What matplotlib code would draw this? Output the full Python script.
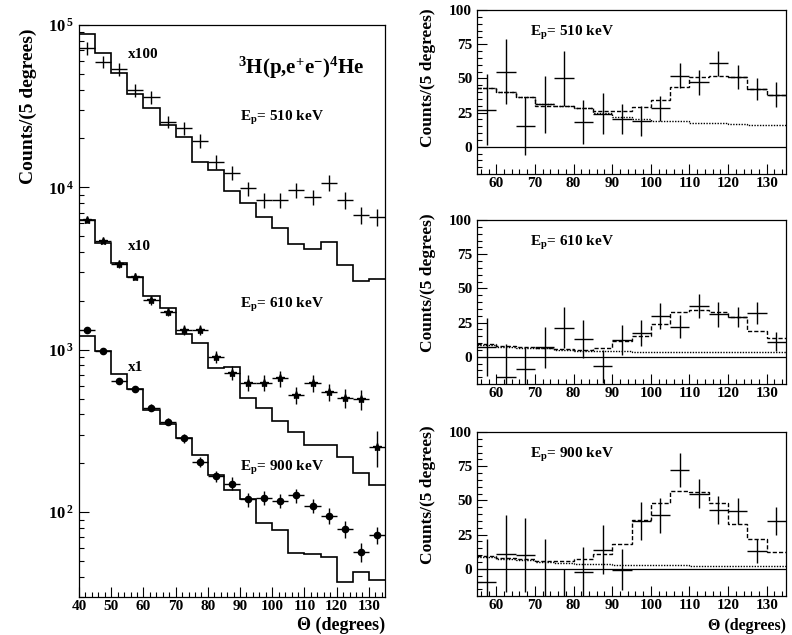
import numpy as np
import matplotlib
matplotlib.use('Agg')
import matplotlib.pyplot as plt
from matplotlib.ticker import MultipleLocator, LogLocator, NullFormatter

plt.rcParams['font.family'] = ['Liberation Serif', 'DejaVu Serif']
plt.rcParams['font.weight'] = 'bold'
plt.rcParams['mathtext.fontset'] = 'custom'
plt.rcParams['mathtext.rm'] = 'Liberation Serif:bold'
plt.rcParams['mathtext.it'] = 'Liberation Serif:bold'
plt.rcParams['mathtext.bf'] = 'Liberation Serif:bold'
plt.rcParams['mathtext.default'] = 'rm'

# ---- left panel: angular distributions (log scale), bins of 5 degrees ----
edges_left = np.arange(40, 140, 5)
theta_left = edges_left[:-1] + 2.5

# Ep = 510 keV, scaled x100
data_510 = [72000, 59500, 53400, 39800, 35900, 25400, 23100, 19400, 14400, 12300,
            9870, 8360, 8360, 9640, 8690, 10700, 8360, 6760, 6590]
err_510 = [0.09, 0.09, 0.09, 0.09, 0.09, 0.09, 0.09, 0.10, 0.10, 0.10,
           0.10, 0.11, 0.11, 0.11, 0.11, 0.11, 0.12, 0.12, 0.12]
sim_510 = [87700, 67600, 50900, 37500, 30700, 24200, 20500, 14400, 12800, 9550,
           8000, 6590, 5600, 4460, 4170, 4580, 3330, 2650, 2730]

# Ep = 610 keV, scaled x10
data_610 = [6300, 4700, 3370, 2820, 2020, 1710, 1320, 1320, 906, 722,
            626, 626, 667, 526, 626, 551, 506, 494, 252]
err_610 = [0.04, 0.04, 0.05, 0.05, 0.06, 0.06, 0.07, 0.07, 0.09, 0.10,
           0.11, 0.11, 0.11, 0.12, 0.12, 0.12, 0.13, 0.14, 0.25]
sim_610 = [6300, 4570, 3410, 2790, 2150, 1800, 1245, 1105, 767, 785,
           501, 437, 365, 310, 259, 259, 219, 175, 147]

# Ep = 900 keV, x1
data_900 = [1320, 986, 641, 570, 440, 360, 284, 204, 167, 150,
            120, 123, 117, 127, 109, 95, 79, 57, 72]
err_900 = [0.03, 0.03, 0.04, 0.04, 0.05, 0.05, 0.06, 0.07, 0.08, 0.09,
           0.10, 0.10, 0.10, 0.10, 0.10, 0.11, 0.12, 0.13, 0.12]
sim_900 = [1213, 986, 708, 570, 425, 348, 284, 224, 169, 137,
           121, 86, 78, 56, 55, 53, 37, 43, 38]

# ---- right panels: background-subtracted counts ----
edges_right = np.arange(55, 140, 5)
theta_right = edges_right[:-1] + 2.5

sub_510 = [27, 55, 15, 31, 50, 18, 24, 20, 19, 28, 52, 47, 61, 51, 42, 38]
sub_510_err = [26, 24, 21, 21, 20, 16, 15, 11, 11, 9, 9, 9, 9, 9, 8, 9]
tot_510 = [43, 40, 36, 30, 29.5, 28, 26, 26, 29, 34, 44, 51, 52, 51, 42, 38]
bkg_510 = [43, 40, 36, 31, 29.5, 28, 25, 22, 20, 19, 18.5, 17, 17, 16.5, 16, 16]

sub_610 = [7, -15, -9, 7, 21, 13, -7, 12, 17, 30, 22, 37, 31, 29, 32, 11]
sub_610_err = [21, 24, 16, 15, 15, 14, 12, 11, 9.5, 9.5, 8.5, 8.5, 9, 7.5, 8, 7]
tot_610 = [9, 8, 7, 6.7, 5.5, 5, 6.7, 11.4, 15, 24, 33, 34.5, 33, 29, 19, 14]
bkg_610 = [8.3, 7.4, 6.7, 6, 5, 4.3, 4.3, 3.8, 3.6, 3.6, 3.1, 3.1, 3.1, 3.1, 3.1, 3.1]

sub_900 = [-10, 11, 10, -25, -30, -2.5, 14, -0.7, 35, 39, 72, 55, 43, 42, 13, 35]
sub_900_err = [32, 28, 27, 47, 30, 18, 18, 15, 14, 13, 12.5, 10.5, 10, 9.5, 9, 10]
tot_900 = [9, 8, 7.4, 5.6, 5.6, 7.4, 11, 18.4, 35.5, 48, 57, 56, 48, 33, 21.6, 12.3]
bkg_900 = [8.6, 7.4, 6.1, 4.9, 4.2, 3.7, 3.2, 2.5, 2.5, 2.5, 2.5, 1.7, 1.7, 1.7, 1.7, 1.7]

W, H = 792, 635
fig = plt.figure(figsize=(W / 100, H / 100), dpi=100)


def style_axes(ax):
    for s in ax.spines.values():
        s.set_linewidth(0.9)
    ax.tick_params(which='both', direction='in', top=False, right=False,
                   labelsize=11, width=0.8)
    ax.tick_params(which='major', length=7)
    ax.tick_params(which='minor', length=3.5)
    ax.tick_params(axis='x', pad=2)
    for lab in ax.get_xticklabels() + ax.get_yticklabels():
        lab.set_fontweight('bold')


# left panel
axL = fig.add_axes([79 / W, 1 - 597 / H, 306 / W, 572 / H])
axL.set_yscale('log')
axL.set_xlim(40, 135)
axL.set_ylim(30, 1e5)

for sim in (sim_510, sim_610, sim_900):
    axL.stairs(sim, edges_left, baseline=None, color='black', lw=1.2)

d = np.array(data_510)
axL.errorbar(theta_left, d, yerr=d * np.array(err_510), xerr=2.5, fmt='none',
             ecolor='black', elinewidth=1.0)
d = np.array(data_610)
axL.errorbar(theta_left, d, yerr=d * np.array(err_610), xerr=2.5, fmt='*',
             color='black', ms=6, ecolor='black', elinewidth=1.0)
d = np.array(data_900)
axL.errorbar(theta_left, d, yerr=d * np.array(err_900), xerr=2.5, fmt='o',
             color='black', ms=4.5, ecolor='black', elinewidth=1.0)

axL.xaxis.set_major_locator(MultipleLocator(10))
axL.xaxis.set_minor_locator(MultipleLocator(2))
axL.yaxis.set_major_locator(LogLocator(base=10, numticks=10))
axL.yaxis.set_minor_locator(LogLocator(base=10, subs=np.arange(2, 10), numticks=20))
axL.yaxis.set_minor_formatter(NullFormatter())
axL.yaxis.set_major_formatter(plt.FuncFormatter(
    lambda v, p: r'$10^{\,%d}$' % int(round(np.log10(v)))))
style_axes(axL)
axL.tick_params(axis='y', which='major', labelsize=12)

tkw = dict(transform=axL.transAxes, fontweight='bold')
axL.text(0.16, 0.948, 'x100', fontsize=11, va='center', **tkw)
axL.text(0.16, 0.612, 'x10', fontsize=11, va='center', **tkw)
axL.text(0.16, 0.402, 'x1', fontsize=11, va='center', **tkw)
axL.text(0.52, 0.925, r'$^{3}$H(p,e$^{+}$e$^{-}$)$^{4}$He', fontsize=15, va='center', **tkw)
axL.text(0.526, 0.837, r'E$_{p}$= 510 keV', fontsize=11, va='center', **tkw)
axL.text(0.526, 0.510, r'E$_{p}$= 610 keV', fontsize=11, va='center', **tkw)
axL.text(0.526, 0.226, r'E$_{p}$= 900 keV', fontsize=11, va='center', **tkw)

fig.text(28 / W, 1 - 106 / H, 'Counts/(5 degrees)', rotation=90, ha='center',
         va='center', fontsize=14, fontweight='bold')
fig.text(385 / W, 1 - 634 / H, 'Θ (degrees)', ha='right', va='bottom',
         fontsize=13, fontweight='bold')

# right panels
right_panels = [
    (174, sub_510, sub_510_err, tot_510, bkg_510, '510', 78),
    (384, sub_610, sub_610_err, tot_610, bkg_610, '610', 283),
    (596, sub_900, sub_900_err, tot_900, bkg_900, '900', 495),
]
for bottom_px, sub, sub_err, tot, bkg, ep, lab_y in right_panels:
    ax = fig.add_axes([477 / W, 1 - bottom_px / H, 309 / W, 164 / H])
    ax.set_xlim(55, 135)
    ax.set_ylim(-20, 100)
    ax.axhline(0, color='black', lw=0.9)
    ax.stairs(tot, edges_right, baseline=None, color='black', lw=1.0,
              linestyle=(0, (3, 1.5)))
    ax.stairs(bkg, edges_right, baseline=None, color='black', lw=1.0,
              linestyle=(0, (1, 1)))
    ax.errorbar(theta_right, sub, yerr=sub_err, xerr=2.5, fmt='none',
                ecolor='black', elinewidth=1.0)
    ax.xaxis.set_major_locator(MultipleLocator(10))
    ax.xaxis.set_minor_locator(MultipleLocator(2))
    ax.yaxis.set_major_locator(MultipleLocator(25))
    ax.yaxis.set_minor_locator(MultipleLocator(5))
    ax.set_yticks([0, 25, 50, 75, 100])
    style_axes(ax)
    ax.text(0.17, 0.86, r'E$_{p}$= ' + ep + ' keV', transform=ax.transAxes,
            fontsize=11, fontweight='bold', va='center')
    fig.text(428 / W, 1 - lab_y / H, 'Counts/(5 degrees)', rotation=90,
             ha='center', va='center', fontsize=12.5, fontweight='bold')

fig.text(786 / W, 1 - 634 / H, 'Θ (degrees)', ha='right', va='bottom',
         fontsize=11.5, fontweight='bold')

fig.savefig('out.png', dpi=100)
